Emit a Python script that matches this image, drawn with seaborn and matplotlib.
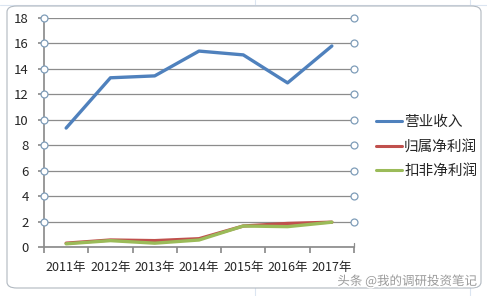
import matplotlib
matplotlib.use("Agg")
import matplotlib.pyplot as plt
import matplotlib.patheffects as pe
import seaborn as sns
import pandas as pd
import numpy as np
from matplotlib.patches import FancyBboxPatch

years = ["2011年", "2012年", "2013年", "2014年", "2015年", "2016年", "2017年"]
revenue = [9.35, 13.3, 13.45, 15.4, 15.1, 12.9, 15.8]
net_profit = [0.3, 0.55, 0.5, 0.65, 1.65, 1.85, 1.95]
deducted_profit = [0.25, 0.5, 0.3, 0.55, 1.65, 1.6, 1.95]
series_names = ["营业收入", "归属净利润", "扣非净利润"]
yticks = [0, 2, 4, 6, 8, 10, 12, 14, 16, 18]

sns.set_theme(style="white")
plt.rcParams['font.family'] = ['Noto Sans CJK SC', 'DejaVu Sans']

rows = []
for name, vals in zip(series_names, [revenue, net_profit, deducted_profit]):
    for i, v in enumerate(vals):
        rows.append({"idx": i, "value": v, "series": name})
df = pd.DataFrame(rows)

fig = plt.figure(figsize=(4.87, 2.96), dpi=100)
fig.patch.set_facecolor("white")

# spreadsheet background lines
for xv in [255/487, 470/487]:
    fig.add_artist(plt.Line2D([xv, xv], [0, 1], color="#dbe5f1", lw=0.8, zorder=-3))
fig.add_artist(plt.Line2D([0, 1], [291/296, 291/296], color="#dbe5f1", lw=0.8, zorder=-3))
# chart frame
frame = FancyBboxPatch((7/487, 8/296), 474/487, 282/296,
                       boxstyle="round,pad=0,rounding_size=0.02",
                       transform=fig.transFigure, facecolor="white",
                       edgecolor="#b0b8c0", lw=0.8, zorder=-2)
fig.add_artist(frame)

ax = fig.add_axes([44/487, 1-247/296, 310/487, 229/296])
ax.set_facecolor("none")
palette = {"营业收入": "#4F81BD", "归属净利润": "#C0504D", "扣非净利润": "#9BBB59"}
sns.lineplot(data=df, x="idx", y="value", hue="series", hue_order=series_names,
             palette=palette, linewidth=2.4, ax=ax, legend=True)

ax.set_xlim(-0.5, 6.5)
ax.set_ylim(0, 18)
ax.set_yticks(yticks)
ax.set_yticklabels([str(t) for t in yticks], fontsize=9.5)
ax.yaxis.grid(True, color="#8c8c8c", lw=0.9)
ax.set_axisbelow(True)
ax.set_xticks(np.arange(-0.5, 7, 1))
ax.set_xticklabels([])
ax.set_xticks(np.arange(7), minor=True)
ax.set_xticklabels(years, minor=True, fontsize=9)
ax.tick_params(axis="x", which="major", length=4, color="#8c8c8c", direction="out", bottom=True)
ax.tick_params(axis="x", which="minor", length=0, pad=10)
ax.tick_params(axis="y", length=4, color="#8c8c8c", direction="out", left=True, pad=7)
for s in ["top", "right"]:
    ax.spines[s].set_visible(False)
ax.spines["left"].set_color("#8c8c8c")
ax.spines["bottom"].set_color("#8c8c8c")
ax.set_xlabel("")
ax.set_ylabel("")

# selection handles
handle_y = yticks[1:]
for xh in [-0.5, 6.5]:
    ax.plot([xh]*len(handle_y), handle_y, linestyle="none", marker="o", ms=5,
            mfc="white", mec="#7f9db9", mew=0.9, clip_on=False, zorder=5)
ax.plot([6.5, 6.5], [0, 0.35], color="#8c8c8c", lw=0.9, clip_on=False)

leg = ax.legend(loc="center left", bbox_to_anchor=(1.07, 0.437), frameon=False,
                borderaxespad=0, borderpad=0,
                fontsize=10.5, handlelength=1.8, handletextpad=0.15, labelspacing=0.72)
for line in leg.get_lines():
    line.set_linewidth(2.2)

fig.text(477/487, 1-281/296, "头条 @我的调研投资笔记", ha="right", va="center",
         fontsize=9, color="#9a9a9a",
         path_effects=[pe.withStroke(linewidth=2, foreground="white")])

fig.savefig("out.png", dpi=100)
